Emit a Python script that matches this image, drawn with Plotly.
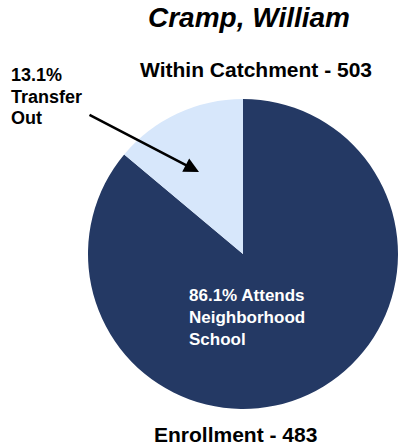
import plotly.graph_objects as go

# ---- data ----
school_name = "Cramp, William"
categories = ["Attends Neighborhood School", "Transfer Out"]
slice_shares = [86.1, 13.9]          # slice sizes
label_percents = ["86.1%", "13.1%"]  # percentages printed on the chart
within_catchment = 503
enrollment = 483
slice_colors = ["#243964", "#D7E7FB"]

W, H = 399, 446
FONT = "Liberation Sans, Arial, sans-serif"

# pie placement (pixels)
cx, cy, r = 243, 254, 155

fig = go.Figure(go.Pie(
    labels=categories,
    values=slice_shares,
    sort=False,
    direction="counterclockwise",
    rotation=0,
    marker=dict(colors=slice_colors, line=dict(width=0)),
    textinfo="none",
    hoverinfo="label+percent",
    showlegend=False,
    domain=dict(x=[(cx - r) / W, (cx + r) / W],
                y=[1 - (cy + r) / H, 1 - (cy - r) / H]),
))

def px_x(x):
    return x / W

def px_y(y):
    return 1 - y / H

def text_line(text, x, baseline, size, xanchor="left", color="black"):
    centre = baseline - 0.3465 * size
    return dict(
        text=text, xref="paper", yref="paper",
        x=px_x(x), y=px_y(centre), xanchor=xanchor, yanchor="middle",
        showarrow=False, borderpad=0, borderwidth=0,
        font=dict(family=FONT, size=size, color=color),
    )

annotations = [
    text_line(f"<b><i>{school_name}</i></b>", 249, 27.7, 28, xanchor="center"),
    text_line(f"<b>Within Catchment - {within_catchment}</b>", 256, 76.7, 21, xanchor="center"),
    text_line(f"<b>Enrollment - {enrollment}</b>", 235, 441.7, 21, xanchor="center"),
]

# outside label for the small slice
transfer_lines = [label_percents[1], "Transfer", "Out"]
for line, base in zip(transfer_lines, [81.7, 103.3, 124.5]):
    annotations.append(text_line(f"<b>{line}</b>", 10.5, base, 18))

# label inside the big slice
inside_lines = [f"{label_percents[0]} Attends", "Neighborhood", "School"]
for line, base in zip(inside_lines, [301.7, 323.6, 345.2]):
    annotations.append(text_line(f"<b>{line}</b>", 188.5, base, 17, color="white"))

# arrow pointing at the small slice
tip_x, tip_y = 199, 172
tail_x, tail_y = 88, 114
annotations.append(dict(
    text="", xref="paper", yref="paper",
    x=px_x(tip_x), y=px_y(tip_y),
    ax=tail_x - tip_x, ay=tail_y - tip_y,
    showarrow=True, arrowhead=2, arrowsize=1.2, arrowwidth=2.5,
    arrowcolor="black", standoff=0, startstandoff=0,
))

fig.update_layout(
    width=W, height=H,
    margin=dict(l=0, r=0, t=0, b=0),
    paper_bgcolor="white", plot_bgcolor="white",
    annotations=annotations,
)

fig.write_html(
    "out.html",
    config={"displayModeBar": False},
    post_script="document.body.style.margin='0';document.body.style.overflow='hidden';",
)
